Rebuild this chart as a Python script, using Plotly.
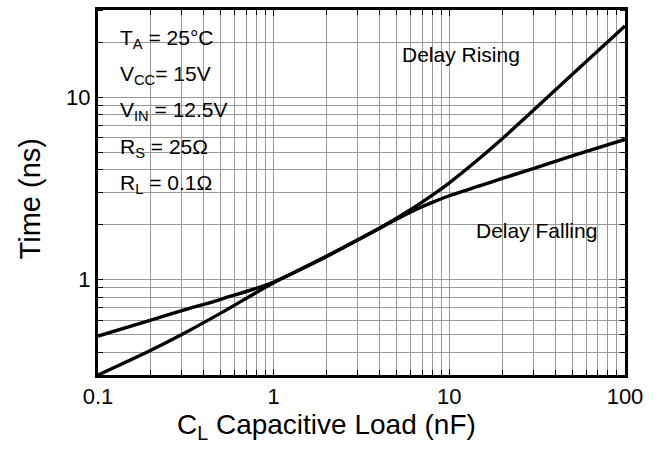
import plotly.graph_objects as go

# Data
cap_nF = [0.1, 0.2, 0.3, 0.5, 1, 2, 4, 6.2, 8, 10, 15, 20, 30, 50, 100]
delay_rising = [0.30, 0.41, 0.50, 0.655, 0.96, 1.34, 1.91, 2.46, 2.90, 3.39, 4.65, 5.91, 8.45, 13.3, 24.5]
delay_falling = [0.49, 0.60, 0.675, 0.78, 0.97, 1.34, 1.91, 2.38, 2.65, 2.88, 3.27, 3.58, 4.06, 4.76, 5.86]

conditions = ["T<sub>A</sub> = 25°C", "V<sub>CC</sub>= 15V", "V<sub>IN</sub> = 12.5V",
              "R<sub>S</sub> = 25Ω", "R<sub>L</sub> = 0.1Ω"]

FONT = "Liberation Sans, Arial, sans-serif"
GRID = "#999999"

fig = go.Figure()
for ys in (delay_rising, delay_falling):
    fig.add_trace(go.Scatter(x=cap_nF, y=ys, mode="lines",
                             line=dict(color="black", width=3.4, shape="spline", smoothing=1.0),
                             showlegend=False, hoverinfo="skip"))

axis_common = dict(
    type="log", tickmode="linear", tick0=0, dtick=1,
    showgrid=True, gridcolor=GRID, gridwidth=1,
    tickcolor="black", tickwidth=1,
    showline=True, linecolor="black", linewidth=3, mirror="allticks",
    minor=dict(dtick="D1", showgrid=True, gridcolor=GRID, gridwidth=1,
               ticks="inside", ticklen=5, tickcolor="black"),
    tickfont=dict(family=FONT, size=22, color="black"),
    zeroline=False, layer="below traces",
)

fig.update_layout(
    width=665, height=450,
    margin=dict(l=98, r=40, t=7, b=75),
    paper_bgcolor="white", plot_bgcolor="white",
    font=dict(family=FONT, color="black"),
    xaxis=dict(range=[-1, 2], ticks="inside", ticklen=6, ticklabelstandoff=0, **axis_common),
    yaxis=dict(range=[-0.5229, 1.4771], ticks="outside", ticklen=0, ticklabelstandoff=0,
               **axis_common),
)

# white boxes behind the text blocks
boxes = [(0.003, 0.264, 0.457, 0.995), (0.558, 0.820, 0.834, 0.924), (0.691, 0.968, 0.353, 0.440)]
for x0, x1, y0, y1 in boxes:
    fig.add_shape(type="rect", xref="paper", yref="paper", x0=x0, x1=x1, y0=y0, y1=y1,
                  fillcolor="white", line=dict(width=0), layer="between")

cond_y = [0.921, 0.822, 0.723, 0.622, 0.524]
for txt, yy in zip(conditions, cond_y):
    fig.add_annotation(text=txt, xref="paper", yref="paper", x=0.038, y=yy,
                       xanchor="left", yanchor="middle", showarrow=False,
                       font=dict(family=FONT, size=21, color="black"))

fig.add_annotation(text="Delay Rising", xref="paper", yref="paper", x=(460.5 - 98) / 527,
                   y=(375 - 52) / 368, xanchor="center", yanchor="middle", showarrow=False,
                   font=dict(family=FONT, size=21, color="black"))
fig.add_annotation(text="Delay Falling", xref="paper", yref="paper", x=(536 - 98) / 527,
                   y=(375 - 229) / 368, xanchor="center", yanchor="middle", showarrow=False,
                   font=dict(family=FONT, size=21, color="black"))

fig.add_annotation(text="C<sub>L</sub> Capacitive Load (nF)", xref="paper", yref="paper",
                   x=(326 - 98) / 527, y=(375 - 427) / 368, xanchor="center", yanchor="middle",
                   showarrow=False, font=dict(family=FONT, size=28, color="black"))
fig.add_annotation(text="Time (ns)", xref="paper", yref="paper", textangle=-90,
                   x=(30 - 98) / 527, y=(375 - 198) / 368, xanchor="center", yanchor="middle",
                   showarrow=False, font=dict(family=FONT, size=29, color="black"))

fig.write_html("out.html", config={"displayModeBar": False},
               post_script="document.body.style.margin='0';")
